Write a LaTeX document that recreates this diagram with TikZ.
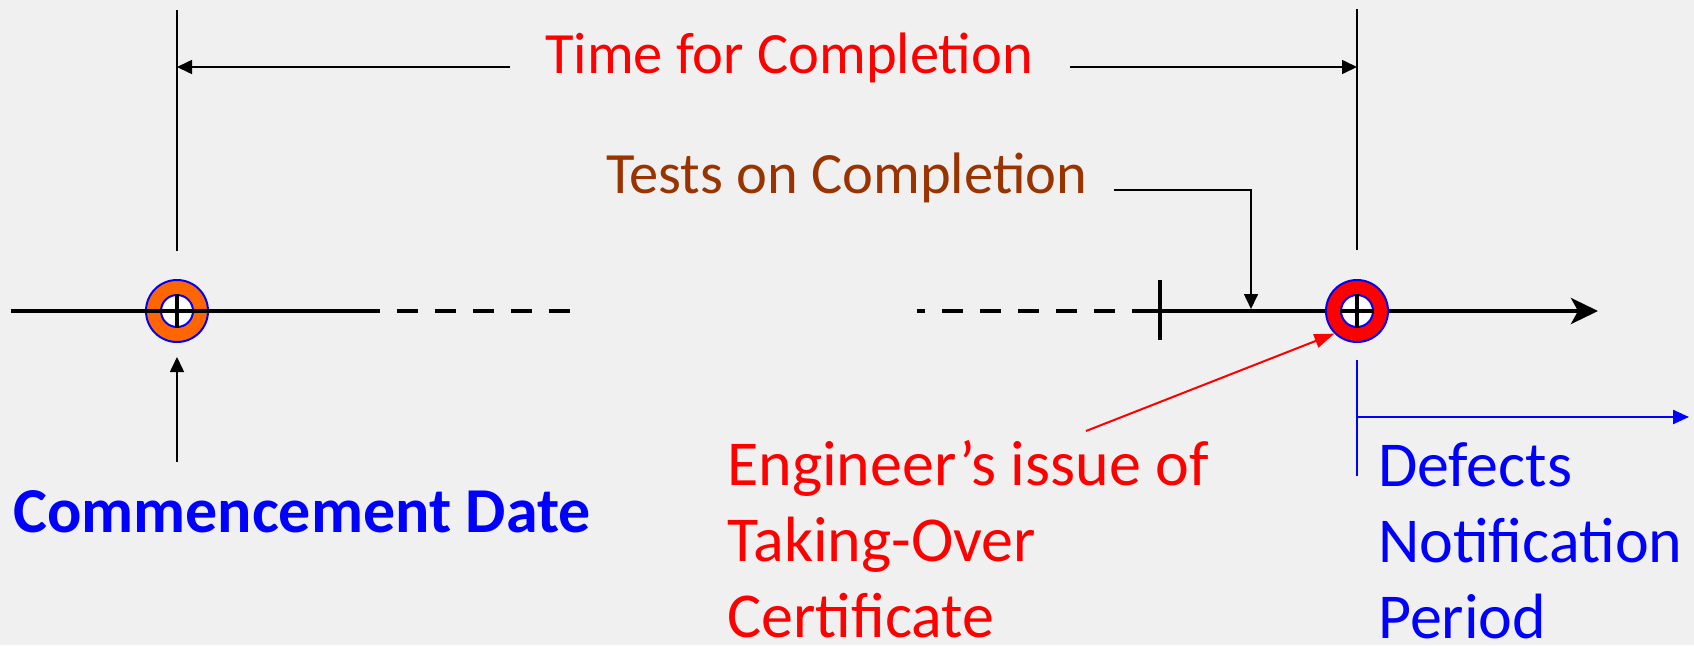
\documentclass[tikz,border=0pt]{standalone}
\usepackage{fontspec}
\setmainfont{Carlito}
\usetikzlibrary{arrows.meta,positioning,calc}
\definecolor{bgray}{RGB}{240,240,240}
\definecolor{ringorange}{RGB}{255,102,0}
\definecolor{testbrown}{RGB}{153,51,0}
\tikzset{
    timeline/.style={
        line width=4pt
    },
    dimline/.style={
        line width=1.6pt,
        -{Triangle[length=15pt,width=14pt]}
    },
    outer_ring/.style={
        draw=blue,
        line width=2pt,
        circle,
        minimum size=62pt,
        inner sep=0pt
    },
    inner_ring/.style={
        draw=blue,
        line width=2pt,
        circle,
        fill=white,
        minimum size=32pt,
        inner sep=0pt
    },
    label_text/.style={
        inner sep=0pt,
        anchor=base west,
        font=\fontsize{58.5}{70}\selectfont
    },
    big_text/.style={
        inner sep=0pt,
        anchor=base west,
        align=left,
        font=\fontsize{64}{76}\selectfont
    },
}

\begin{document}
\begin{tikzpicture}[x=1pt, y=-1pt]
    % background
    \fill[bgray] (0,0) rectangle (1694,645);
    \useasboundingbox (0,0) rectangle (1694,645);

    % coordinates
    \coordinate (tl_west)  at (11,311);
    \coordinate (tl_solid) at (380,311);
    \coordinate (tl_dashA) at (397,311);
    \coordinate (tl_dashB) at (570,311);
    \coordinate (tl_dashC) at (917,311);
    \coordinate (tl_dashD) at (1132,311);
    \coordinate (tl_east)  at (1598,311);
    \coordinate (tick_top) at (1160,280);
    \coordinate (tick_bot) at (1160,340);
    \coordinate (start_top) at (177,10);
    \coordinate (start_bot) at (177,251);
    \coordinate (take_top) at (1357,9);
    \coordinate (take_bot) at (1357,250);
    \coordinate (tfc_left) at (510,67);
    \coordinate (tfc_right) at (1070,67);
    \coordinate (toc_from) at (1114,190);
    \coordinate (toc_to) at (1251,309);
    \coordinate (cd_from) at (177,462);
    \coordinate (cd_to) at (177,357);
    \coordinate (toc_cert) at (1086,431);
    \coordinate (dnp_top) at (1357,360);
    \coordinate (dnp_bot) at (1357,476);
    \coordinate (dnp_from) at (1357,417);
    \coordinate (dnp_to) at (1689,417);

    % commencement ring
    \node[outer_ring, fill=ringorange] (start) at (177,311) {};
    \node[inner_ring] (start_in) at (start) {};

    % timeline
    \draw[timeline] (tl_west) -- (tl_solid);
    \draw[timeline, dash pattern=on 21pt off 17pt] (tl_dashA) -- (tl_dashB);
    \draw[timeline, dash pattern=on 21pt off 17pt, dash phase=13pt] (tl_dashC) -- (tl_dashD);
    \draw[timeline, -{Stealth[length=27pt,width=26pt,inset=7pt]}] (tl_dashD) -- (tl_east);
    \draw[timeline] (start_in.north) -- (start_in.south);
    \draw[timeline] (tick_top) -- (tick_bot);

    % taking-over ring
    \node[outer_ring, fill=red] (takeover) at (1357,311) {};
    \node[inner_ring] (takeover_in) at (takeover) {};
    \draw[timeline] (takeover_in.north) -- (takeover_in.south);
    \draw[timeline] (takeover_in.west) -- (takeover_in.east);

    % time for completion
    \draw[line width=1.6pt] (start_top) -- (start_bot);
    \draw[line width=1.6pt] (take_top) -- (take_bot);
    \node[label_text, text=red] (tfc) at (545,73) {Time for Completion};
    \draw[dimline] (tfc_left) -- (tfc_left -| start_top);
    \draw[dimline] (tfc_right) -- (tfc_right -| take_top);

    % tests on completion
    \node[label_text, text=testbrown] (toc) at (606,193) {Tests on Completion};
    \draw[dimline] (toc_from) -| (toc_to);

    % commencement date
    \node[label_text, text=blue, font=\fontsize{64}{76}\selectfont\bfseries] (cd) at (13,532) {Commencement Date};
    \draw[dimline] (cd_from) -- (cd_to);

    % taking-over certificate
    \node[big_text, text=red] (cert) at (727,637) {Engineer’s issue of\\Taking-Over\\Certificate};
    \draw[red, line width=2pt, -{Triangle[length=20pt,width=14pt]}] (toc_cert) -- (takeover.south west);

    % defects notification period
    \draw[blue, line width=2.4pt] (dnp_top) -- (dnp_bot);
    \draw[blue, line width=2.4pt, -{Triangle[length=16pt,width=14pt]}] (dnp_from) -- (dnp_to);
    \node[big_text, text=blue] (dnp) at (1378,638) {Defects\\Notification\\Period};
\end{tikzpicture}
\end{document}
